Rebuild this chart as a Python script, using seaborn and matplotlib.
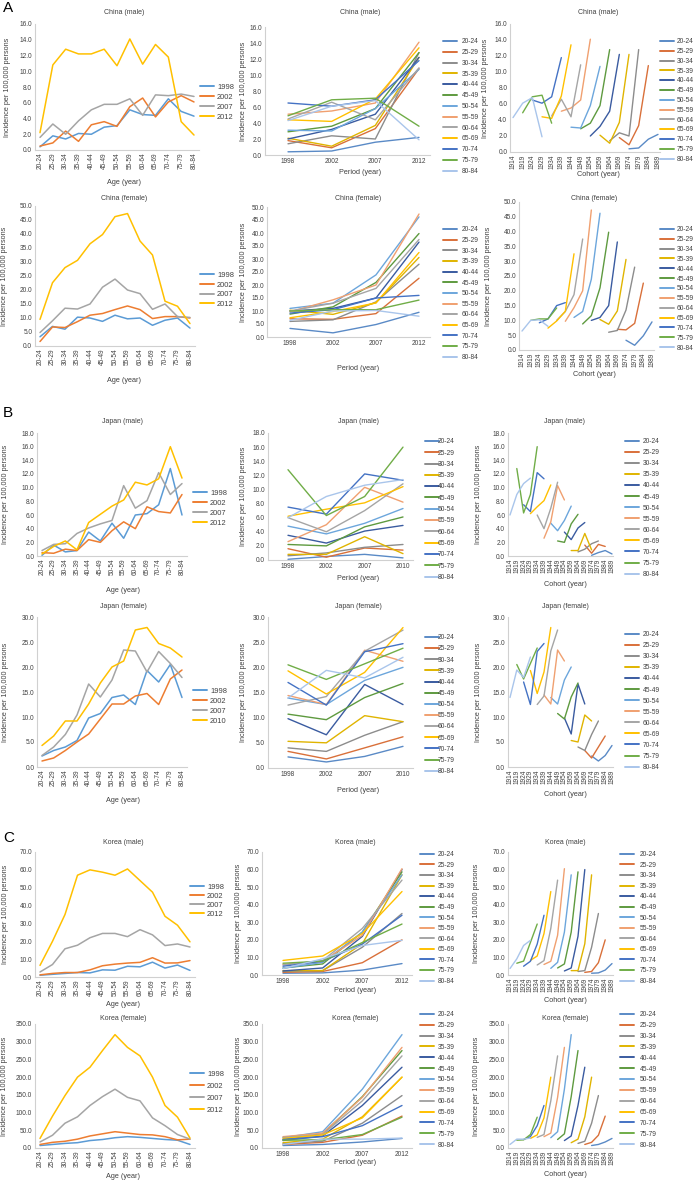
import numpy as np
import pandas as pd
import matplotlib
matplotlib.use("Agg")
import matplotlib.pyplot as plt
from matplotlib.lines import Line2D
import seaborn as sns

# ---------------- data ----------------
AGE_GROUPS = ["20-24", "25-29", "30-34", "35-39", "40-44", "45-49", "50-54",
              "55-59", "60-64", "65-69", "70-74", "75-79", "80-84"]
COHORTS = ["1914", "1919", "1924", "1929", "1934", "1939", "1944", "1949",
           "1954", "1959", "1964", "1969", "1974", "1979", "1984", "1989"]
PERIODS_CN = ["1998", "2002", "2007", "2012"]
PERIODS_JP = ["1998", "2002", "2007", "2010"]
PERIODS_KR = ["1998", "2002", "2007", "2012"]
JP_M_AGE_LEGEND = ["1998", "2002", "2007", "2012"]
JP_F_AGE_LEGEND = ["1998", "2002", "2007", "2010"]

# China male
cn_m_1998 = [0.4, 1.8, 1.4, 2.1, 2.0, 2.9, 3.1, 5.1, 4.5, 4.4, 6.5, 4.9, 4.3]
cn_m_2002 = [0.5, 0.9, 2.4, 1.1, 3.2, 3.6, 3.0, 5.5, 6.6, 4.2, 6.1, 6.9, 6.1]
cn_m_2007 = [1.6, 3.3, 2.0, 3.7, 5.1, 5.8, 5.8, 6.5, 4.4, 7.0, 6.9, 7.1, 6.8]
cn_m_2012 = [2.2, 10.8, 12.8, 12.2, 12.2, 12.8, 10.7, 14.1, 10.9, 13.4, 11.8, 3.6, 1.9]
# China female
cn_f_1998 = [3.3, 7.0, 6.0, 10.3, 10.0, 8.8, 11.0, 9.7, 10.0, 7.4, 9.2, 10.0, 6.4]
cn_f_2002 = [1.6, 6.8, 6.6, 8.7, 11.0, 11.6, 13.0, 14.3, 13.0, 9.8, 10.5, 10.5, 10.0]
cn_f_2007 = [4.8, 9.0, 13.5, 13.2, 15.0, 21.0, 23.9, 20.0, 18.7, 13.1, 15.0, 10.5, 10.2]
cn_f_2012 = [9.5, 22.6, 28.0, 30.6, 36.5, 39.8, 46.2, 47.3, 37.5, 32.5, 16.0, 14.2, 8.0]
# Japan male
jp_m_1998 = [0.1, 1.6, 0.6, 0.8, 3.5, 2.2, 4.8, 2.6, 6.0, 6.2, 7.5, 12.8, 6.0]
jp_m_2002 = [0.5, 0.4, 1.0, 0.8, 2.4, 2.0, 3.7, 5.0, 4.0, 7.2, 6.5, 6.3, 9.0]
jp_m_2007 = [0.8, 1.7, 1.8, 3.3, 4.1, 4.7, 5.2, 10.3, 7.0, 8.1, 12.2, 9.0, 10.6]
jp_m_2010 = [0.3, 1.4, 2.2, 0.9, 4.9, 6.1, 7.3, 8.2, 10.8, 10.4, 11.3, 16.0, 11.4]
# Japan female
jp_f_1998 = [2.2, 3.3, 4.0, 5.3, 9.8, 10.7, 13.9, 14.4, 12.5, 19.3, 17.0, 20.5, 13.9]
jp_f_2002 = [1.2, 1.8, 3.3, 5.0, 6.6, 9.6, 12.6, 12.6, 14.2, 14.7, 12.5, 17.6, 19.4]
jp_f_2007 = [2.3, 4.0, 6.5, 10.4, 16.6, 14.0, 17.4, 23.4, 23.2, 19.0, 23.1, 20.7, 17.9]
jp_f_2010 = [4.3, 6.2, 9.2, 9.2, 12.6, 16.8, 20.0, 21.2, 27.4, 27.9, 24.7, 23.8, 22.0]
# Korea male
kr_m_1998 = [1.0, 1.5, 2.0, 2.5, 2.3, 4.0, 3.8, 6.0, 5.7, 8.3, 5.0, 6.7, 3.7]
kr_m_2002 = [1.2, 2.0, 2.5, 2.5, 4.0, 6.3, 7.2, 7.8, 8.2, 10.8, 7.8, 7.9, 9.2]
kr_m_2007 = [2.8, 7.0, 15.8, 17.8, 22.0, 24.4, 24.4, 22.6, 26.5, 23.6, 17.6, 18.5, 16.8]
kr_m_2012 = [6.5, 20.0, 35.0, 57.0, 60.0, 58.7, 57.0, 60.5, 54.0, 47.5, 34.0, 29.0, 19.7]
# Korea female
kr_f_1998 = [7, 10, 13, 15, 21, 24, 29, 32, 30, 27, 24, 22, 10]
kr_f_2002 = [10, 16, 19, 25, 34, 40, 46, 42, 38, 37, 32, 23, 25]
kr_f_2007 = [17, 36, 70, 88, 120, 145, 166, 143, 133, 85, 63, 38, 25]
kr_f_2012 = [27, 90, 148, 200, 228, 275, 320, 284, 260, 200, 120, 87, 28]

PERIOD_COLORS = ["#5B9BD5", "#ED7D31", "#A5A5A5", "#FFC000"]
AGE_COLORS = ["#5A8AC6", "#D9703A", "#8C8C8C", "#E0B400", "#3A5BA0", "#5E9A3F",
              "#6CA6DC", "#F0A070", "#A5A5A5", "#FFC000", "#4472C4", "#70AD47",
              "#A9C5EB"]

# ---------------- style ----------------
sns.set_theme(style="white")
plt.rcParams["font.family"] = ["Liberation Sans", "DejaVu Sans"]
TXT = "#404040"
SPINE = "#D0D0D0"
TICK_FS = 4.7
LAB_FS = 5.2
TITLE_FS = 5.0

W, H = 698, 1181
fig = plt.figure(figsize=(W / 100, H / 100), dpi=100)


def px_axes(first, last, n, padl, padr, ytop, ybot):
    pc = (last - first) / (n - 1)
    l = first - padl * pc
    r = last + padr * pc
    ax = fig.add_axes([l / W, 1 - ybot / H, (r - l) / W, (ybot - ytop) / H])
    ax.set_xlim(-padl, n - 1 + padr)
    return ax


def style(ax, ymax, ystep, labels, rot):
    ticks = np.arange(0, ymax + ystep / 2, ystep)
    ax.set_ylim(0, ymax)
    ax.set_yticks(ticks)
    ax.set_yticklabels([f"{v:.1f}" for v in ticks])
    ax.set_xticks(range(len(labels)))
    ax.set_xticklabels(labels, rotation=rot)
    for s in ["top", "right"]:
        ax.spines[s].set_visible(False)
    for s in ["left", "bottom"]:
        ax.spines[s].set_color(SPINE)
        ax.spines[s].set_linewidth(0.8)
    ax.tick_params(length=0, labelsize=TICK_FS, colors=TXT, pad=2)
    ax.set_xlabel("")
    ax.set_ylabel("")
    ax.set_facecolor("white")


def legend(ax, labels, colors, hx, y0, spacing, fs, hlen_px, tx):
    f = fs * 100 / 72
    handles = [Line2D([0], [0], color=c, lw=1.4) for c in colors]
    ls = spacing / f - 1.117
    ax.legend(handles, labels, loc="upper left",
              bbox_to_anchor=(hx / W, 1 - (y0 - 0.56 * f) / H),
              bbox_transform=fig.transFigure, frameon=False, borderpad=0,
              borderaxespad=0, fontsize=fs, handlelength=hlen_px / f,
              handletextpad=(tx - hx - hlen_px) / f, labelspacing=ls,
              labelcolor=TXT)


def ftext(x, y, s, fs=LAB_FS, rot=0, **kw):
    fig.text(x / W, 1 - y / H, s, fontsize=fs, rotation=rot, ha="center",
             va="center", color=TXT, **kw)


panels = [
    dict(name="China (male)", rows=[cn_m_1998, cn_m_2002, cn_m_2007, cn_m_2012],
         periods=PERIODS_CN, agelegend=PERIODS_CN, ymax=16, ystep=2,
         age=(40, 194, 24, 150), per=(288, 419, 27, 155), coh=(513, 658, 24, 152),
         title_y=13, xl=(183, 173, 175), titles_x=(124, 360, 598),
         yl_x=(8, 243, 485),
         lg_age=(200, 88, 11.0, 217), lg_per=(443, 42, 11.25, 462),
         lg_coh=(660, 42, 10.25, 677)),
    dict(name="China (female)", rows=[cn_f_1998, cn_f_2002, cn_f_2007, cn_f_2012],
         periods=PERIODS_CN, agelegend=PERIODS_CN, ymax=50, ystep=5,
         age=(40, 190, 206, 346), per=(290, 419, 207, 337), coh=(522, 652, 202, 350),
         title_y=198, xl=(380, 369, 375), titles_x=(124, 358, 594),
         yl_x=(5, 243, 488),
         lg_age=(200, 276, 10.7, 217), lg_per=(443, 230, 11.1, 462),
         lg_coh=(660, 230, 10.3, 677)),
    dict(name="Japan (male)", rows=[jp_m_1998, jp_m_2002, jp_m_2007, jp_m_2010],
         periods=PERIODS_JP, agelegend=JP_M_AGE_LEGEND, ymax=18, ystep=2,
         age=(42, 182, 433, 556), per=(288, 403, 433, 560), coh=(510, 612, 433, 556),
         title_y=422, xl=(590, 578, 585), titles_x=(123, 358, 565),
         yl_x=(6, 243, 478),
         lg_age=(193, 494, 11.0, 210), lg_per=(425, 442, 11.75, 438),
         lg_coh=(625, 442, 11.5, 643)),
    dict(name="Japan (female)", rows=[jp_f_1998, jp_f_2002, jp_f_2007, jp_f_2010],
         periods=PERIODS_JP, agelegend=JP_F_AGE_LEGEND, ymax=30, ystep=5,
         age=(42, 182, 617, 767), per=(288, 403, 617, 768), coh=(510, 612, 617, 767),
         title_y=607, xl=(801, 790, 795), titles_x=(123, 358, 565),
         yl_x=(6, 243, 478),
         lg_age=(193, 692, 11.0, 210), lg_per=(425, 638, 11.6, 438),
         lg_coh=(625, 635, 11.5, 643)),
    dict(name="Korea (male)", rows=[kr_m_1998, kr_m_2002, kr_m_2007, kr_m_2012],
         periods=PERIODS_KR, agelegend=PERIODS_KR, ymax=70, ystep=10,
         age=(40, 190, 852, 977), per=(283, 402, 852, 975), coh=(510, 612, 852, 975),
         title_y=842, xl=(1005, 990, 1000), titles_x=(123, 355, 565),
         yl_x=(6, 238, 476),
         lg_age=(190, 888, 10.0, 207), lg_per=(420, 855, 11.0, 438),
         lg_coh=(620, 855, 11.0, 640)),
    dict(name="Korea (female)", rows=[kr_f_1998, kr_f_2002, kr_f_2007, kr_f_2012],
         periods=PERIODS_KR, agelegend=PERIODS_KR, ymax=350, ystep=50,
         age=(40, 190, 1024, 1148), per=(283, 402, 1024, 1148), coh=(510, 612, 1024, 1148),
         title_y=1018, xl=(1177, 1163, 1175), titles_x=(123, 355, 565),
         yl_x=(5, 238, 476),
         lg_age=(190, 1075, 13.0, 207), lg_per=(420, 1015, 11.3, 438),
         lg_coh=(620, 1015, 11.3, 640)),
]

YLABEL = "Incidence per 100,000 persons"

for p in panels:
    periods = p["periods"]
    recs = []
    for j, (per, vals) in enumerate(zip(periods, p["rows"])):
        for i, (ag, v) in enumerate(zip(AGE_GROUPS, vals)):
            recs.append(dict(period=per, pidx=j, age=ag, aidx=i,
                             cidx=(len(AGE_GROUPS) - 1 - i) + j, value=v))
    df = pd.DataFrame(recs)
    per_pal = dict(zip(periods, PERIOD_COLORS))
    age_pal = dict(zip(AGE_GROUPS, AGE_COLORS))

    # --- age plot ---
    a = p["age"]
    ax = px_axes(a[0], a[1], 13, 0.4, 0.4, a[2], a[3])
    sns.lineplot(data=df, x="aidx", y="value", hue="period", hue_order=periods,
                 palette=per_pal, estimator=None, legend=False, lw=1.1, ax=ax)
    style(ax, p["ymax"], p["ystep"], AGE_GROUPS, 90)
    legend(ax, p["agelegend"], PERIOD_COLORS, *p["lg_age"][:3], 5.4, 14, p["lg_age"][3])

    # --- period plot ---
    a = p["per"]
    ax = px_axes(a[0], a[1], 4, 0.53, 0.25, a[2], a[3])
    sns.lineplot(data=df, x="pidx", y="value", hue="age", hue_order=AGE_GROUPS,
                 palette=age_pal, estimator=None, legend=False, lw=1.0, ax=ax)
    style(ax, p["ymax"], p["ystep"], periods, 0)
    legend(ax, AGE_GROUPS, AGE_COLORS, *p["lg_per"][:3], 4.8, 14, p["lg_per"][3])

    # --- cohort plot ---
    a = p["coh"]
    ax = px_axes(a[0], a[1], 16, 0.3, 0.2, a[2], a[3])
    sns.lineplot(data=df, x="cidx", y="value", hue="age", hue_order=AGE_GROUPS,
                 palette=age_pal, estimator=None, legend=False, lw=1.0, ax=ax)
    style(ax, p["ymax"], p["ystep"], COHORTS, 90)
    legend(ax, AGE_GROUPS, AGE_COLORS, *p["lg_coh"][:3], 4.8, 14, p["lg_coh"][3])

    # titles and axis labels
    ty = p["title_y"]
    for tx in p["titles_x"]:
        ftext(tx, ty, p["name"], fs=TITLE_FS)
    ftext(p["titles_x"][0], p["xl"][0], "Age (year)")
    ftext(p["titles_x"][1], p["xl"][1], "Period (year)")
    ftext(p["titles_x"][2], p["xl"][2], "Cohort (year)")
    for k, key in enumerate(["age", "per", "coh"]):
        g = p[key]
        ftext(p["yl_x"][k], (g[2] + g[3]) / 2, YLABEL, rot=90)

fig.text(3 / W, 1 - 8 / H, "A", fontsize=11, ha="left", va="center", color="black")
fig.text(3 / W, 1 - 413 / H, "B", fontsize=11, ha="left", va="center", color="black")
fig.text(3 / W, 1 - 838 / H, "C", fontsize=11, ha="left", va="center", color="black")

fig.savefig("out.png", dpi=100, facecolor="white")
